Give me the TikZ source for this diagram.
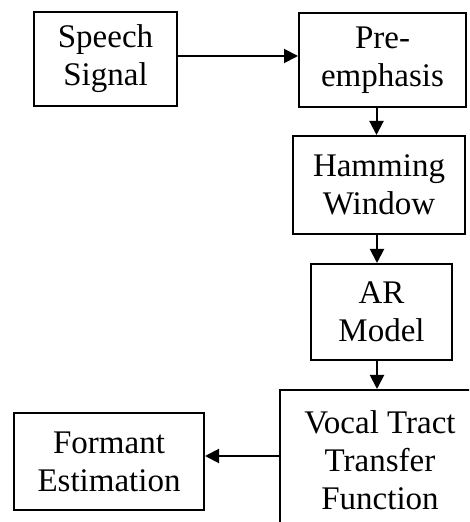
\documentclass[tikz,border=0pt]{standalone}
\usepackage{fontspec}
\setmainfont{Liberation Serif}
\usetikzlibrary{arrows.meta}
\begin{document}
\begin{tikzpicture}[x=1pt,y=1pt,
  blk/.style={draw,line width=2pt,inner sep=0pt,align=center,
    font=\fontsize{33}{38}\selectfont},
  arr/.style={line width=2pt,-{Triangle[length=14pt,width=14pt]}}]
\path[use as bounding box,clip] (0,0) rectangle (469,522);
\node[blk,minimum width=143,minimum height=94] (sp) at (105.5,463) {Speech\\Signal};
\node[blk,minimum width=167,minimum height=94] (pre) at (382.5,462) {Pre-\\emphasis};
\node[blk,minimum width=172,minimum height=98] (ham) at (379,337) {Hamming\\Window};
\node[blk,minimum width=141,minimum height=96] (ar) at (381.5,210) {AR\\Model};
\node[blk,minimum width=200,minimum height=140] (vt) at (380,62) {Vocal Tract\\Transfer\\Function};
\node[blk,minimum width=190,minimum height=97] (fm) at (109,60.5) {Formant\\Estimation};
\draw[arr] ([yshift=3pt]sp.east) -- ([yshift=3pt]sp.east -| pre.west);
\draw[arr] ([xshift=-6pt]pre.south) -- ([xshift=-6pt]pre.south |- ham.north);
\draw[arr] ([xshift=-2pt]ham.south) -- ([xshift=-2pt]ham.south |- ar.north);
\draw[arr] ([xshift=-4.5pt]ar.south) -- ([xshift=-4.5pt]ar.south |- vt.north);
\draw[arr] ([yshift=4pt]vt.west) -- ([yshift=4pt]vt.west -| fm.east);
\end{tikzpicture}
\end{document}
